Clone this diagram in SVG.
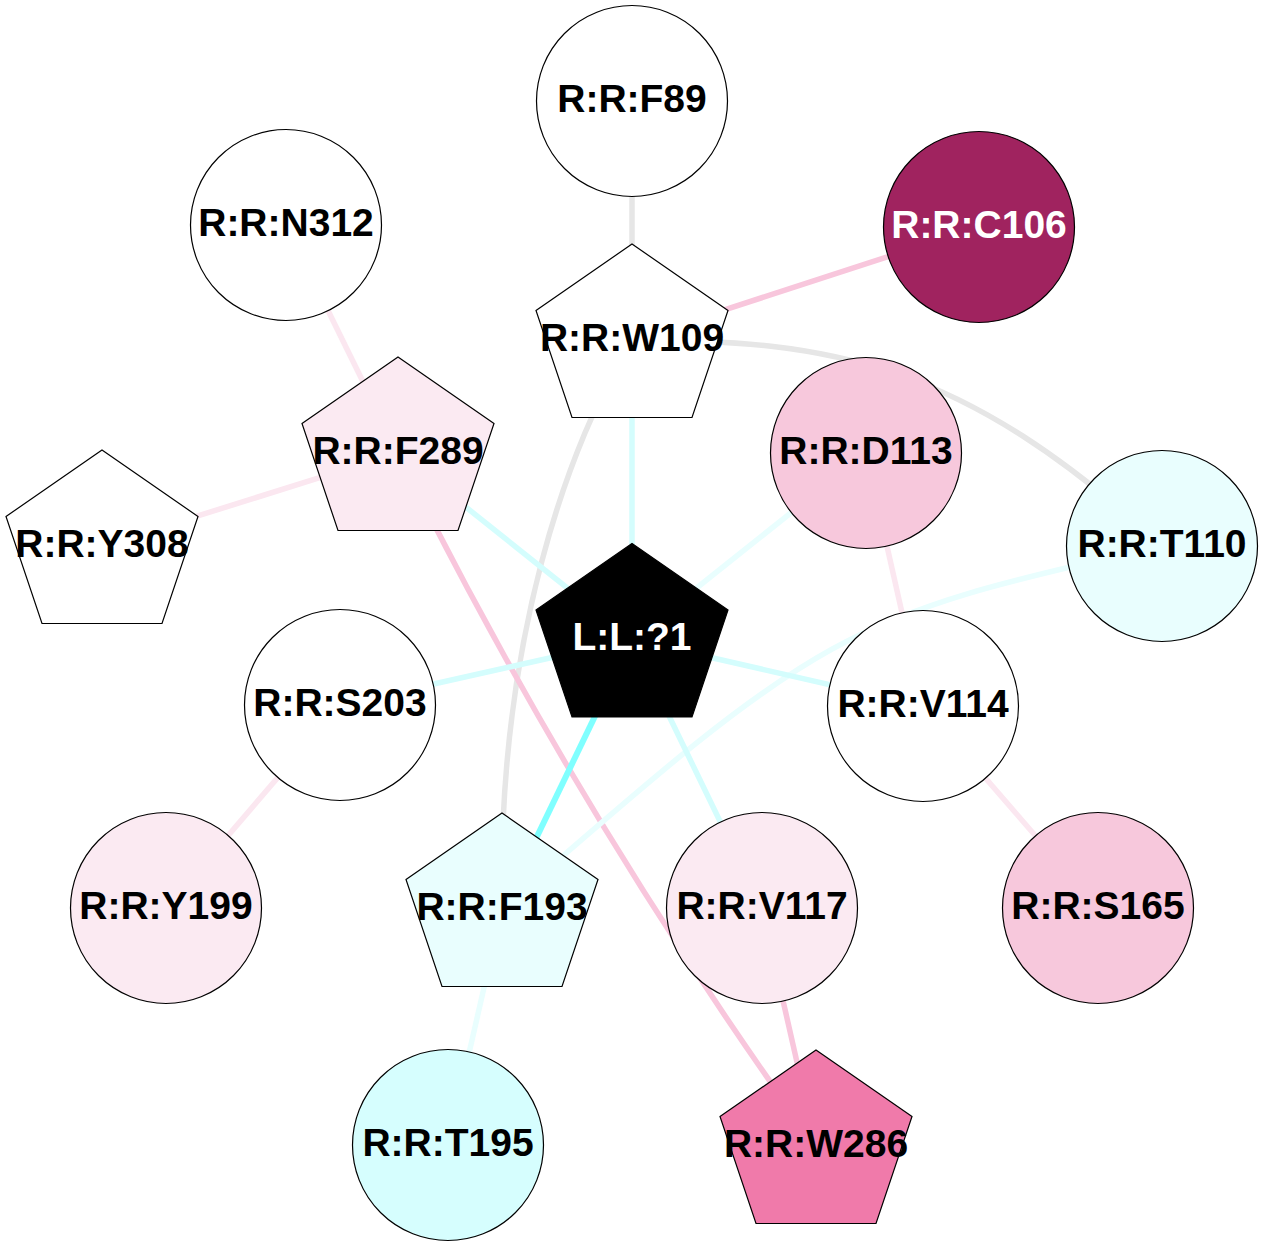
<svg xmlns="http://www.w3.org/2000/svg" width="1263" height="1247" viewBox="0 0 1263 1247">
<style>
.e{fill:none;stroke-width:5.5;stroke-linecap:butt}
.gray{stroke:#e6e6e6}
.pk{stroke:#f8c6dc}
.lpk{stroke:#fbe7f0}
.cy{stroke:#80ffff;stroke-width:6}
.lcy{stroke:#d4fdfd}
.vcy{stroke:#e9fefe}
.n{stroke:#000;stroke-width:1.2}
text{font-family:"Liberation Sans",Arial,Helvetica,sans-serif;font-weight:bold;font-size:39px;text-anchor:middle;fill:#000}
text.w{fill:#fff}
</style>
<defs>
<polygon id="pent" points="0,-96 96,-29.5 60,77.5 -60,77.5 -96,-29.5"/>
</defs>
<rect width="1263" height="1247" fill="#fff"/>
<g id="edges">
<line class="e gray" x1="632" y1="101" x2="632" y2="340"/>
<line class="e pk" x1="632" y1="340" x2="979" y2="227"/>
<path class="e gray" d="M632,340 C832,340 962,362 1162,546"/>
<path class="e gray" d="M632,340 C570,440 497,640 502,909"/>
<line class="e lcy" x1="632" y1="340" x2="632" y2="639.5"/>
<line class="e lpk" x1="286" y1="225" x2="398" y2="453"/>
<line class="e lpk" x1="398" y1="453" x2="102" y2="546"/>
<line class="e lcy" x1="398" y1="453" x2="632" y2="639.5"/>
<path class="e pk" d="M398,453 Q578,817 816,1146"/>
<line class="e vcy" x1="866" y1="453" x2="632" y2="639.5"/>
<line class="e lpk" x1="866" y1="453" x2="923" y2="706"/>
<path class="e vcy" d="M1162,546 C842,617 822,629 502,909"/>
<line class="e lcy" x1="340" y1="705" x2="632" y2="639.5"/>
<line class="e lcy" x1="923" y1="706" x2="632" y2="639.5"/>
<line class="e cy" x1="632" y1="639.5" x2="502" y2="909"/>
<line class="e lcy" x1="632" y1="639.5" x2="762" y2="908"/>
<line class="e lpk" x1="340" y1="705" x2="166" y2="908"/>
<line class="e lpk" x1="923" y1="706" x2="1098" y2="908"/>
<line class="e vcy" x1="502" y1="909" x2="448" y2="1145"/>
<line class="e pk" x1="762" y1="908" x2="816" y2="1146"/>
</g>
<g id="F89"><circle class="n" cx="632" cy="101" r="95.5" fill="#fff"/><text x="632" y="112">R:R:F89</text></g>
<g id="N312"><circle class="n" cx="286" cy="225" r="95.5" fill="#fff"/><text x="286" y="236">R:R:N312</text></g>
<g id="C106"><circle class="n" cx="979" cy="227" r="95.5" fill="#a0235f"/><text class="w" x="979" y="238">R:R:C106</text></g>
<g id="W109"><use href="#pent" x="632" y="340" class="n" fill="#fff"/><text x="632" y="351">R:R:W109</text></g>
<g id="F289"><use href="#pent" x="398" y="453" class="n" fill="#fbeaf2"/><text x="398" y="464">R:R:F289</text></g>
<g id="D113"><circle class="n" cx="866" cy="453" r="95.5" fill="#f7c8dc"/><text x="866" y="464">R:R:D113</text></g>
<g id="T110"><circle class="n" cx="1162" cy="546" r="95.5" fill="#e9fefe"/><text x="1162" y="557">R:R:T110</text></g>
<g id="Y308"><use href="#pent" x="102" y="546" class="n" fill="#fff"/><text x="102" y="557">R:R:Y308</text></g>
<g id="L1"><use href="#pent" x="632" y="639.5" class="n" fill="#000"/><text class="w" x="632" y="650">L:L:?1</text></g>
<g id="S203"><circle class="n" cx="340" cy="705" r="95.5" fill="#fff"/><text x="340" y="716">R:R:S203</text></g>
<g id="V114"><circle class="n" cx="923" cy="706" r="95.5" fill="#fff"/><text x="923" y="717">R:R:V114</text></g>
<g id="Y199"><circle class="n" cx="166" cy="908" r="95.5" fill="#fbeaf2"/><text x="166" y="919">R:R:Y199</text></g>
<g id="F193"><use href="#pent" x="502" y="909" class="n" fill="#e9fefe"/><text x="502" y="920">R:R:F193</text></g>
<g id="V117"><circle class="n" cx="762" cy="908" r="95.5" fill="#fbeaf2"/><text x="762" y="919">R:R:V117</text></g>
<g id="S165"><circle class="n" cx="1098" cy="908" r="95.5" fill="#f7c8dc"/><text x="1098" y="919">R:R:S165</text></g>
<g id="T195"><circle class="n" cx="448" cy="1145" r="95.5" fill="#d6fefe"/><text x="448" y="1156">R:R:T195</text></g>
<g id="W286"><use href="#pent" x="816" y="1146" class="n" fill="#f07aaa"/><text x="816" y="1157">R:R:W286</text></g>
</svg>
